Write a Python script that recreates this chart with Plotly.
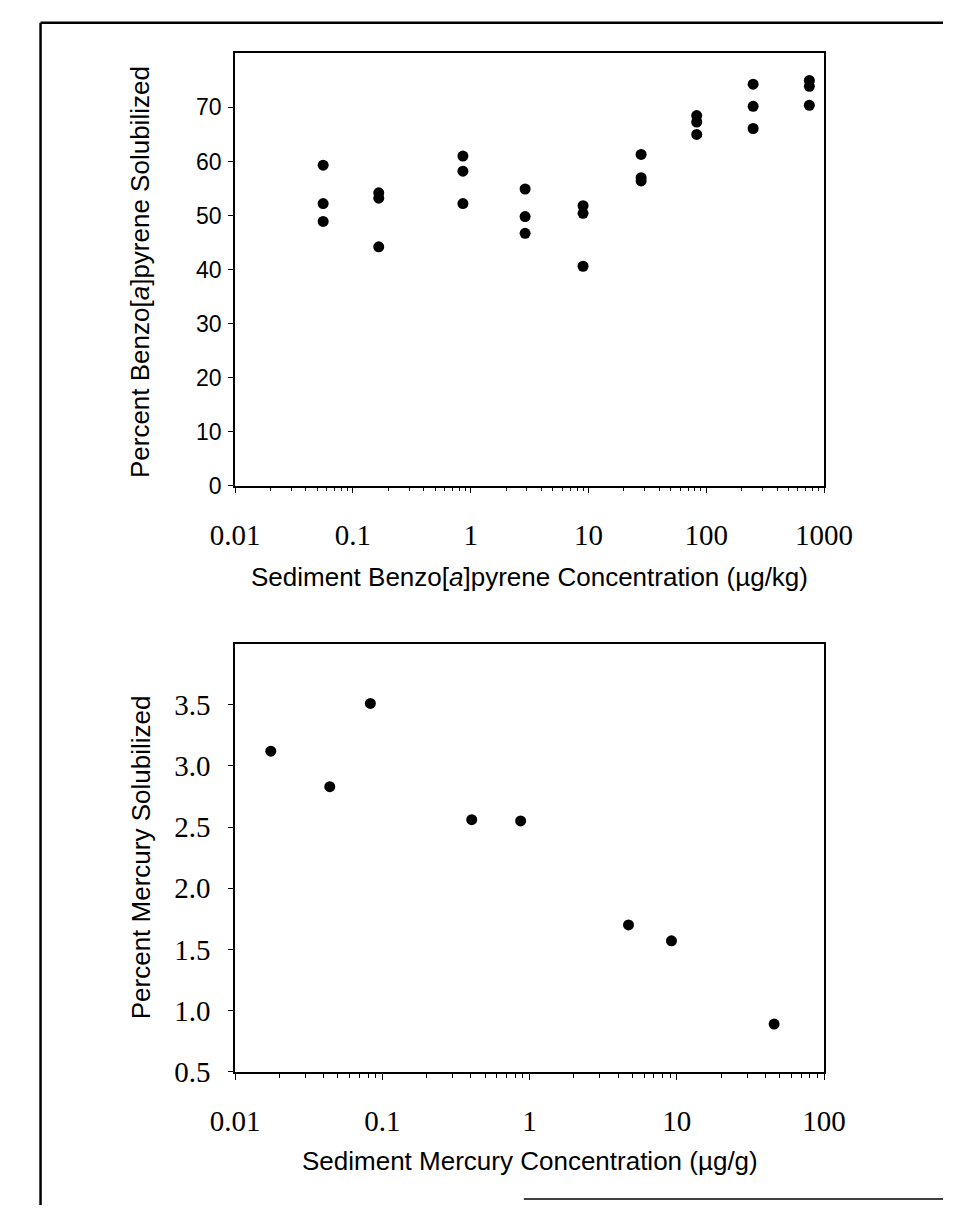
import plotly.graph_objects as go

# ---- Data ----
bap_conc = [0.056, 0.056, 0.056,
            0.166, 0.166, 0.166,
            0.86, 0.86, 0.86,
            2.9, 2.9, 2.9,
            9.0, 9.0, 9.0,
            28, 28, 28,
            83, 83, 83,
            250, 250, 250,
            750, 750, 750]
bap_pct = [59.3, 52.2, 48.9,
           54.2, 53.2, 44.2,
           61.0, 58.2, 52.2,
           54.9, 49.8, 46.7,
           51.8, 50.4, 40.6,
           61.3, 57.0, 56.4,
           68.5, 67.3, 65.0,
           74.3, 70.2, 66.1,
           75.0, 73.9, 70.4]

hg_conc = [0.0175, 0.044, 0.083, 0.405, 0.87, 4.7, 9.2, 45.8]
hg_pct = [3.12, 2.83, 3.51, 2.56, 2.55, 1.70, 1.57, 0.89]

top_xticks = [0.01, 0.1, 1, 10, 100, 1000]
top_xtext = ["0.01", "0.1", "1", "10", "100", "1000"]
top_yticks = [0, 10, 20, 30, 40, 50, 60, 70]
bot_xticks = [0.01, 0.1, 1, 10, 100]
bot_xtext = ["0.01", "0.1", "1", "10", "100"]
bot_yticks = [0.5, 1.0, 1.5, 2.0, 2.5, 3.0, 3.5]
bot_ytext = ["0.5", "1.0", "1.5", "2.0", "2.5", "3.0", "3.5"]

W, H = 964, 1213
SERIF = "Liberation Serif, Times New Roman, serif"
SANS = "Liberation Sans, Arial, sans-serif"

fig = go.Figure()
fig.add_trace(go.Scatter(x=bap_conc, y=bap_pct, mode="markers",
                         marker=dict(color="black", size=11),
                         xaxis="x", yaxis="y", showlegend=False))
fig.add_trace(go.Scatter(x=hg_conc, y=hg_pct, mode="markers",
                         marker=dict(color="black", size=11),
                         xaxis="x2", yaxis="y2", showlegend=False))

x0, x1 = 214 / W, 838 / W
top_dom = [1 - 484 / H, 1 - 46 / H]
bot_dom = [1 - 1078 / H, 1 - 644 / H]

common_axis = dict(showline=True, linecolor="black", linewidth=1.5, mirror=True,
                   showgrid=False, zeroline=False, ticks="outside",
                   tickcolor="black", tickwidth=1.2)

fig.update_layout(
    width=W, height=H,
    margin=dict(l=0, r=0, t=0, b=0),
    paper_bgcolor="white", plot_bgcolor="white",
    xaxis=dict(common_axis, type="log", range=[-2, 3], domain=[x0, x1], anchor="y",
               tickmode="array", tickvals=top_xticks, ticktext=top_xtext,
               ticklen=6, ticklabelstandoff=17,
               tickfont=dict(family=SERIF, size=29, color="black"),
               minor=dict(dtick="D1", ticks="outside", ticklen=4,
                          tickcolor="black", tickwidth=1)),
    yaxis=dict(common_axis, range=[0, 80], domain=top_dom, anchor="x",
               tickmode="array", tickvals=top_yticks, ticklen=5,
               ticklabelstandoff=2,
               tickfont=dict(family=SANS, size=23, color="black")),
    xaxis2=dict(common_axis, type="log", range=[-2, 2], domain=[x0, x1], anchor="y2",
                tickmode="array", tickvals=bot_xticks, ticktext=bot_xtext,
                ticklen=6, ticklabelstandoff=17,
                tickfont=dict(family=SERIF, size=29, color="black"),
                minor=dict(dtick="D1", ticks="outside", ticklen=4,
                           tickcolor="black", tickwidth=1)),
    yaxis2=dict(common_axis, range=[0.5, 4.0], domain=bot_dom, anchor="x2",
                tickmode="array", tickvals=bot_yticks, ticktext=bot_ytext,
                ticklen=5, ticklabelstandoff=12,
                tickfont=dict(family=SERIF, size=29, color="black")),
)

# Axis titles as annotations placed precisely
TITLE_X = 114 / W
fig.add_annotation(text="Sediment Benzo[<i>a</i>]pyrene Concentration (\u00b5g/kg)",
                   xref="paper", yref="paper", x=(214 + 838) / 2 / W, y=1 - 577 / H,
                   showarrow=False, font=dict(family=SANS, size=26, color="black"),
                   xanchor="center", yanchor="middle")
fig.add_annotation(text="Percent Benzo[<i>a</i>]pyrene Solubilized",
                   xref="paper", yref="paper", x=TITLE_X, y=1 - 268 / H,
                   showarrow=False, textangle=-90,
                   font=dict(family=SANS, size=26, color="black"),
                   xanchor="center", yanchor="middle")
fig.add_annotation(text="Sediment Mercury Concentration (\u00b5g/g)",
                   xref="paper", yref="paper", x=(214 + 838) / 2 / W, y=1 - 1168 / H,
                   showarrow=False, font=dict(family=SANS, size=26, color="black"),
                   xanchor="center", yanchor="middle")
fig.add_annotation(text="Percent Mercury Solubilized",
                   xref="paper", yref="paper", x=TITLE_X, y=1 - 861 / H,
                   showarrow=False, textangle=-90,
                   font=dict(family=SANS, size=26, color="black"),
                   xanchor="center", yanchor="middle")

# Outer frame lines (scanned page border)
fig.add_shape(type="line", xref="paper", yref="paper",
              x0=8 / W, x1=1, y0=1 - 15 / H, y1=1 - 15 / H,
              line=dict(color="black", width=2.5))
fig.add_shape(type="line", xref="paper", yref="paper",
              x0=8 / W, x1=8 / W, y0=0, y1=1 - 15 / H,
              line=dict(color="black", width=2.5))
fig.add_shape(type="line", xref="paper", yref="paper",
              x0=520 / W, x1=1, y0=1 - 1207 / H, y1=1 - 1207 / H,
              line=dict(color="black", width=1.5))

fig.write_html("out.html")
